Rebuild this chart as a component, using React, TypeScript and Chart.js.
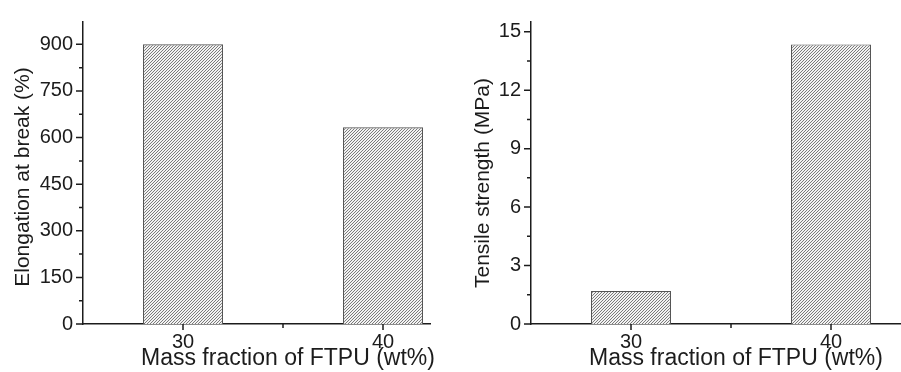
import React, { useEffect, useRef } from 'react';
import { Chart, registerables } from 'chart.js';

Chart.register(...registerables);

// ---- data ----
const massFraction = [30, 40];
const elongation = [900, 633];
const tensile = [1.7, 14.35];
const xTickValues = [30, 35, 40];
const elongationTicks = [0, 150, 300, 450, 600, 750, 900];
const tensileTicks = [0, 3, 6, 9, 12, 15];
const xTitleText = 'Mass fraction of FTPU (wt%)';
const elongationTitle = 'Elongation at break (%)';
const tensileTitle = 'Tensile strength (MPa)';

const FONT = "'Liberation Sans', Arial, Helvetica, sans-serif";
const INK = '#1c1c1c';

function makeHatch(): CanvasPattern | string {
  const n = 3;
  const c = document.createElement('canvas');
  c.width = n;
  c.height = n;
  const g = c.getContext('2d');
  if (!g) return '#b0b0b0';
  g.fillStyle = '#f2f2f2';
  g.fillRect(0, 0, n, n);
  g.strokeStyle = '#7a7a7a';
  g.lineWidth = 1;
  g.beginPath();
  g.moveTo(-1, n + 1);
  g.lineTo(n + 1, -1);
  g.moveTo(-1, 1);
  g.lineTo(1, -1);
  g.moveTo(n - 1, n + 1);
  g.lineTo(n + 1, n - 1);
  g.stroke();
  return g.createPattern(c, 'repeat') || '#b0b0b0';
}

interface PanelCfg {
  values: number[];
  yTicks: number[];
  yMax: number;
  xMax: number;
  yTitle: string;
  yTitleX: number;
  yTitleY: number;
  axisWidth: number;
  padRight: number;
}

function decorPlugin(cfg: PanelCfg) {
  return {
    id: 'decor',
    afterDraw(chart: any) {
      const ctx = chart.ctx as CanvasRenderingContext2D;
      const xs = chart.scales.x;
      const ys = chart.scales.y;
      const { left, bottom } = chart.chartArea;
      ctx.save();
      ctx.strokeStyle = INK;
      ctx.lineWidth = 1.5;
      ctx.beginPath();
      // y major / minor ticks
      cfg.yTicks.forEach((v, i) => {
        const y = ys.getPixelForValue(v);
        ctx.moveTo(left - 7, y);
        ctx.lineTo(left, y);
        if (i < cfg.yTicks.length - 1) {
          const ym = ys.getPixelForValue((v + cfg.yTicks[i + 1]) / 2);
          ctx.moveTo(left - 4, ym);
          ctx.lineTo(left, ym);
        }
      });
      // x major / minor ticks
      xTickValues.forEach((v) => {
        const x = xs.getPixelForValue(v);
        const major = massFraction.includes(v);
        ctx.moveTo(x, bottom);
        ctx.lineTo(x, bottom + (major ? 6 : 4));
      });
      ctx.stroke();

      // titles
      ctx.fillStyle = INK;
      ctx.textAlign = 'center';
      ctx.textBaseline = 'alphabetic';
      ctx.font = `23px ${FONT}`;
      ctx.fillText(xTitleText, xs.getPixelForValue(35) + 5, 365);
      ctx.translate(cfg.yTitleX, cfg.yTitleY);
      ctx.rotate(-Math.PI / 2);
      ctx.font = `21px ${FONT}`;
      ctx.fillText(cfg.yTitle, 0, 0);
      ctx.restore();
    },
  };
}

function buildChart(canvas: HTMLCanvasElement, cfg: PanelCfg, hatch: CanvasPattern | string) {
  return new Chart(canvas, {
    type: 'bar',
    data: {
      datasets: [
        {
          data: massFraction.map((m, i) => ({ x: m, y: cfg.values[i] })),
          backgroundColor: hatch as any,
          borderColor: '#555555',
          borderWidth: 1.2,
          borderSkipped: 'start',
          barPercentage: 0.8,
          categoryPercentage: 1,
        },
      ],
    },
    options: {
      responsive: false,
      animation: false,
      devicePixelRatio: 1,
      layout: { padding: { top: 14, right: cfg.padRight, left: 0, bottom: 0 } },
      plugins: {
        legend: { display: false },
        tooltip: { enabled: false },
        title: { display: false },
      },
      scales: {
        x: {
          type: 'linear',
          min: 25,
          max: cfg.xMax,
          offset: false,
          grid: { display: false, drawTicks: false, offset: false },
          border: { display: true, color: INK, width: 1.5 },
          afterBuildTicks: (s: any) => {
            s.ticks = xTickValues.map((v) => ({ value: v }));
          },
          afterFit: (s: any) => {
            s.height = 48;
          },
          ticks: {
            padding: 6,
            autoSkip: false,
            maxRotation: 0,
            color: INK,
            font: { family: FONT, size: 20 },
            callback: (v: any) => (massFraction.includes(Number(v)) ? String(v) : ''),
          },
        },
        y: {
          type: 'linear',
          min: 0,
          max: cfg.yMax,
          grid: { display: false, drawTicks: false },
          border: { display: true, color: INK, width: 1.5 },
          afterBuildTicks: (s: any) => {
            s.ticks = cfg.yTicks.map((v) => ({ value: v }));
          },
          afterFit: (s: any) => {
            s.width = cfg.axisWidth;
          },
          ticks: {
            padding: 10,
            color: INK,
            font: { family: FONT, size: 20 },
            callback: (v: any) => String(v),
          },
        },
      },
    },
    plugins: [decorPlugin(cfg)],
  } as any);
}

export default function App() {
  const leftRef = useRef<HTMLCanvasElement>(null);
  const rightRef = useRef<HTMLCanvasElement>(null);

  useEffect(() => {
    const hatch = makeHatch();
    const charts: Chart[] = [];
    if (leftRef.current) {
      charts.push(
        buildChart(
          leftRef.current,
          {
            values: elongation,
            yTicks: elongationTicks,
            yMax: 972,
            xMax: 42.35,
            yTitle: elongationTitle,
            yTitleX: 29,
            yTitleY: 177,
            axisWidth: 83,
            padRight: 20,
          },
          hatch
        )
      );
    }
    if (rightRef.current) {
      charts.push(
        buildChart(
          rightRef.current,
          {
            values: tensile,
            yTicks: tensileTicks,
            yMax: 15.5,
            xMax: 43.5,
            yTitle: tensileTitle,
            yTitleX: 39,
            yTitleY: 183,
            axisWidth: 81,
            padRight: 0,
          },
          hatch
        )
      );
    }
    return () => charts.forEach((c) => c.destroy());
  }, []);

  return (
    <div
      style={{
        position: 'absolute',
        left: 0,
        top: 0,
        width: 901,
        height: 372,
        background: '#ffffff',
        overflow: 'hidden',
      }}
    >
      <canvas
        ref={leftRef}
        width={450}
        height={372}
        style={{ position: 'absolute', left: 0, top: 0, width: 450, height: 372 }}
      />
      <canvas
        ref={rightRef}
        width={451}
        height={372}
        style={{ position: 'absolute', left: 450, top: 0, width: 451, height: 372 }}
      />
    </div>
  );
}
